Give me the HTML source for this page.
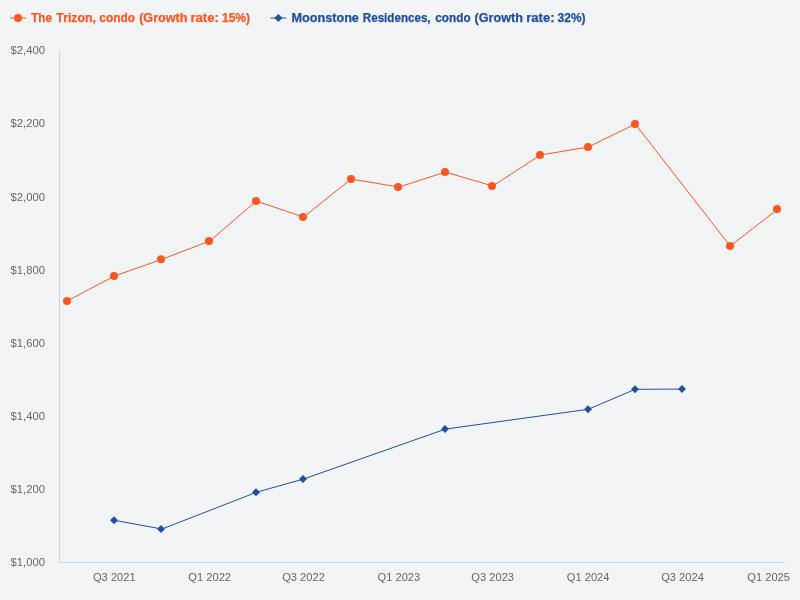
<!DOCTYPE html>
<html><head><meta charset="utf-8"><title>Chart</title>
<style>html,body{margin:0;padding:0;background:#f3f4f6;overflow:hidden}svg{display:block}text{font-family:"Liberation Sans","DejaVu Sans",sans-serif}.ax{font-size:11px;fill:#666666}.lg{font-size:12px;font-weight:bold}</style></head><body>
<svg width="800" height="600" viewBox="0 0 800 600">
<rect width="800" height="600" fill="#f3f4f6"/>
<path d="M59.5 50V562" stroke="#ccd6eb" stroke-width="1" fill="none"/>
<path d="M60 562.5H785" stroke="#ccd6eb" stroke-width="1" fill="none"/>
<text class="ax" x="45" y="54.2" text-anchor="end" textLength="34.4" lengthAdjust="spacingAndGlyphs">$2,400</text>
<text class="ax" x="45" y="127.3" text-anchor="end" textLength="34.4" lengthAdjust="spacingAndGlyphs">$2,200</text>
<text class="ax" x="45" y="200.5" text-anchor="end" textLength="34.4" lengthAdjust="spacingAndGlyphs">$2,000</text>
<text class="ax" x="45" y="273.6" text-anchor="end" textLength="34.4" lengthAdjust="spacingAndGlyphs">$1,800</text>
<text class="ax" x="45" y="346.8" text-anchor="end" textLength="34.4" lengthAdjust="spacingAndGlyphs">$1,600</text>
<text class="ax" x="45" y="419.9" text-anchor="end" textLength="34.4" lengthAdjust="spacingAndGlyphs">$1,400</text>
<text class="ax" x="45" y="493.1" text-anchor="end" textLength="34.4" lengthAdjust="spacingAndGlyphs">$1,200</text>
<text class="ax" x="45" y="566.2" text-anchor="end" textLength="34.4" lengthAdjust="spacingAndGlyphs">$1,000</text>
<text class="ax" x="114.3" y="581" text-anchor="middle" textLength="42.7" lengthAdjust="spacingAndGlyphs">Q3 2021</text>
<text class="ax" x="209.7" y="581" text-anchor="middle" textLength="42.7" lengthAdjust="spacingAndGlyphs">Q1 2022</text>
<text class="ax" x="303.5" y="581" text-anchor="middle" textLength="42.7" lengthAdjust="spacingAndGlyphs">Q3 2022</text>
<text class="ax" x="398.9" y="581" text-anchor="middle" textLength="42.7" lengthAdjust="spacingAndGlyphs">Q1 2023</text>
<text class="ax" x="492.7" y="581" text-anchor="middle" textLength="42.7" lengthAdjust="spacingAndGlyphs">Q3 2023</text>
<text class="ax" x="588.1" y="581" text-anchor="middle" textLength="42.7" lengthAdjust="spacingAndGlyphs">Q1 2024</text>
<text class="ax" x="682.5" y="581" text-anchor="middle" textLength="42.7" lengthAdjust="spacingAndGlyphs">Q3 2024</text>
<text class="ax" x="790" y="581" text-anchor="end" textLength="42.7" lengthAdjust="spacingAndGlyphs">Q1 2025</text>
<path d="M114.29 520.30 L161.98 529.05 L256.34 492.30 L303.52 479.05 L445.57 429.05 L588.14 409.30 L635.32 389.30 L682.50 389.05" stroke="#2050a0" stroke-width="1" fill="none" stroke-linejoin="round" stroke-linecap="round"/>
<path d="M114.00 516.30L118.00 520.30L114.00 524.30L110.00 520.30Z" fill="#2050a0"/>
<path d="M161.00 525.05L165.00 529.05L161.00 533.05L157.00 529.05Z" fill="#2050a0"/>
<path d="M256.00 488.30L260.00 492.30L256.00 496.30L252.00 492.30Z" fill="#2050a0"/>
<path d="M303.00 475.05L307.00 479.05L303.00 483.05L299.00 479.05Z" fill="#2050a0"/>
<path d="M445.00 425.05L449.00 429.05L445.00 433.05L441.00 429.05Z" fill="#2050a0"/>
<path d="M588.00 405.30L592.00 409.30L588.00 413.30L584.00 409.30Z" fill="#2050a0"/>
<path d="M635.00 385.30L639.00 389.30L635.00 393.30L631.00 389.30Z" fill="#2050a0"/>
<path d="M682.00 385.05L686.00 389.05L682.00 393.05L678.00 389.05Z" fill="#2050a0"/>
<path d="M67.11 301.05 L114.29 276.05 L161.98 259.30 L209.68 241.05 L256.34 201.05 L303.52 217.05 L351.21 179.05 L398.91 187.05 L445.57 172.05 L492.75 186.05 L540.45 155.05 L588.14 147.05 L635.32 124.05 L730.20 246.05 L777.89 209.05" stroke="#ff5722" stroke-width="1" fill="none" stroke-linejoin="round" stroke-linecap="round"/>
<circle cx="67.00" cy="301.05" r="4" fill="#ff5722"/>
<circle cx="114.00" cy="276.05" r="4" fill="#ff5722"/>
<circle cx="161.00" cy="259.30" r="4" fill="#ff5722"/>
<circle cx="209.00" cy="241.05" r="4" fill="#ff5722"/>
<circle cx="256.00" cy="201.05" r="4" fill="#ff5722"/>
<circle cx="303.00" cy="217.05" r="4" fill="#ff5722"/>
<circle cx="351.00" cy="179.05" r="4" fill="#ff5722"/>
<circle cx="398.00" cy="187.05" r="4" fill="#ff5722"/>
<circle cx="445.00" cy="172.05" r="4" fill="#ff5722"/>
<circle cx="492.00" cy="186.05" r="4" fill="#ff5722"/>
<circle cx="540.00" cy="155.05" r="4" fill="#ff5722"/>
<circle cx="588.00" cy="147.05" r="4" fill="#ff5722"/>
<circle cx="635.00" cy="124.05" r="4" fill="#ff5722"/>
<circle cx="730.00" cy="246.05" r="4" fill="#ff5722"/>
<circle cx="777.00" cy="209.05" r="4" fill="#ff5722"/>
<path d="M10 18H26" stroke="#ff5722" stroke-width="1"/><circle cx="18" cy="18" r="4" fill="#ff5722"/>
<text class="lg" y="22" fill="#ff5722" stroke="#ff5722" stroke-width="0.25"><tspan x="31.2" textLength="20.8" lengthAdjust="spacingAndGlyphs">The</tspan> <tspan x="56.3" textLength="39.7" lengthAdjust="spacingAndGlyphs">Trizon,</tspan> <tspan x="99.3" textLength="35.7" lengthAdjust="spacingAndGlyphs">condo</tspan> <tspan x="139.2" textLength="48.2" lengthAdjust="spacingAndGlyphs">(Growth</tspan> <tspan x="190.4" textLength="28.4" lengthAdjust="spacingAndGlyphs">rate:</tspan> <tspan x="222.0" textLength="28.0" lengthAdjust="spacingAndGlyphs">15%)</tspan></text>
<path d="M270.4 18H286.4" stroke="#2050a0" stroke-width="1"/><path d="M278.4 14L282.4 18L278.4 22L274.4 18Z" fill="#2050a0"/>
<text class="lg" y="22" fill="#2050a0" stroke="#2050a0" stroke-width="0.25"><tspan x="291.6" textLength="67.3" lengthAdjust="spacingAndGlyphs">Moonstone</tspan> <tspan x="362.8" textLength="67.8" lengthAdjust="spacingAndGlyphs">Residences,</tspan> <tspan x="435.3" textLength="35.3" lengthAdjust="spacingAndGlyphs">condo</tspan> <tspan x="474.6" textLength="48.4" lengthAdjust="spacingAndGlyphs">(Growth</tspan> <tspan x="526.2" textLength="28.4" lengthAdjust="spacingAndGlyphs">rate:</tspan> <tspan x="557.6" textLength="28.0" lengthAdjust="spacingAndGlyphs">32%)</tspan></text>
</svg></body></html>
